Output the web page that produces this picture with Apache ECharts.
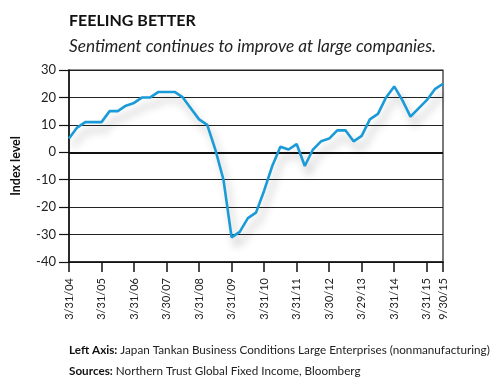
<!DOCTYPE html>
<html>
<head>
<meta charset="utf-8">
<script src="https://cdn.jsdelivr.net/npm/echarts@6/dist/echarts.min.js"></script>
<style>
html,body{margin:0;padding:0;background:#fff;}
#chart{width:500px;height:386px;}
</style>
</head>
<body>
<div id="chart"></div>
<script>
// Quarter-end dates (categories)
const categories = [
  '3/31/04','6/30/04','9/30/04','12/31/04',
  '3/31/05','6/30/05','9/30/05','12/30/05',
  '3/31/06','6/30/06','9/29/06','12/29/06',
  '3/30/07','6/29/07','9/28/07','12/31/07',
  '3/31/08','6/30/08','9/30/08','12/31/08',
  '3/31/09','6/30/09','9/30/09','12/31/09',
  '3/31/10','6/30/10','9/30/10','12/31/10',
  '3/31/11','6/30/11','9/30/11','12/30/11',
  '3/30/12','6/29/12','9/28/12','12/31/12',
  '3/29/13','6/28/13','9/30/13','12/31/13',
  '3/31/14','6/30/14','9/30/14','12/31/14',
  '3/31/15','6/30/15','9/30/15'
];
// Japan Tankan Business Conditions, Large Enterprises (nonmanufacturing)
const tankanValues = [
  5, 9, 11, 11,
  11, 15, 15, 17,
  18, 20, 20, 22,
  22, 22, 20, 16,
  12, 10, 1, -10,
  -31, -29, -24, -22,
  -14, -5, 2, 1,
  3, -5, 1, 4,
  5, 8, 8, 4,
  6, 12, 14, 20,
  24, 19, 13, 16,
  19, 23, 25
];
// Indices of labelled x ticks
const labelledIndices = [0, 4, 8, 12, 16, 20, 24, 28, 32, 36, 40, 44, 46];
const yTicks = [-40, -30, -20, -10, 0, 10, 20, 30];

const FONT = 'Lato, "Noto Sans", sans-serif';
const chart = echarts.init(document.getElementById('chart'), null, {renderer: 'canvas'});
const showIdx = (i) => labelledIndices.indexOf(i) >= 0;

chart.setOption({
  backgroundColor: '#fff',
  animation: false,
  title: [
    {
      text: 'FEELING BETTER',
      left: 64, top: 8,
      textStyle: {fontFamily: FONT, fontSize: 16, fontWeight: 'bold', color: '#111'}
    },
    {
      text: 'Sentiment continues to improve at large companies.',
      left: 64, top: 33,
      textStyle: {fontFamily: FONT, fontSize: 17.2, fontStyle: 'italic', fontWeight: 'normal', color: '#222'}
    },
    {
      text: '{b|Left Axis:} Japan Tankan Business Conditions Large Enterprises (nonmanufacturing)\n{b|Sources:} Northern Trust Global Fixed Income, Bloomberg',
      left: 64, top: 335,
      textStyle: {
        fontFamily: FONT, fontSize: 11.7, fontWeight: 'normal', color: '#222', lineHeight: 21,
        rich: {b: {fontFamily: FONT, fontSize: 11.7, fontWeight: 'bold', color: '#111', lineHeight: 21}}
      }
    }
  ],
  grid: {
    left: 69, right: 57, top: 70, bottom: 124,
    show: true, borderColor: '#222', borderWidth: 1.2, backgroundColor: 'transparent'
  },
  xAxis: {
    type: 'category',
    data: categories,
    boundaryGap: false,
    axisLine: {onZero: false, lineStyle: {color: '#111', width: 1.5}},
    axisTick: {show: true, length: 10, interval: (i) => showIdx(i), lineStyle: {color: '#111', width: 1.5}},
    axisLabel: {
      interval: (i) => showIdx(i),
      rotate: 90, margin: 16,
      fontFamily: FONT, fontSize: 11, color: '#222'
    },
    splitLine: {show: false}
  },
  yAxis: {
    type: 'value',
    min: -40, max: 30, interval: 10,
    name: 'Index level',
    nameLocation: 'middle',
    nameGap: 47,
    nameRotate: 90,
    nameTextStyle: {fontFamily: FONT, fontSize: 12.5, fontWeight: 'bold', color: '#111'},
    axisLine: {show: true, lineStyle: {color: '#111', width: 1.5}},
    axisTick: {show: true, length: 10, lineStyle: {color: '#111', width: 1.2}},
    axisLabel: {
      margin: 13, fontFamily: FONT, fontSize: 13, color: '#222',
      formatter: (v) => (yTicks.indexOf(v) >= 0 ? String(v) : '')
    },
    splitLine: {show: true, lineStyle: {color: '#222', width: 1.2}}
  },
  series: [{
    type: 'line',
    data: tankanValues,
    symbol: 'none',
    smooth: false,
    lineStyle: {
      color: '#1a9bd8', width: 2.6,
      shadowColor: 'rgba(0,0,0,0.28)', shadowBlur: 8, shadowOffsetX: 4, shadowOffsetY: 8
    },
    markLine: {
      silent: true, symbol: ['none', 'none'], label: {show: false},
      lineStyle: {color: '#111', width: 2, type: 'solid'},
      data: [{yAxis: 0}],
      z: 1
    },
    z: 3
  }]
});
</script>
</body>
</html>
